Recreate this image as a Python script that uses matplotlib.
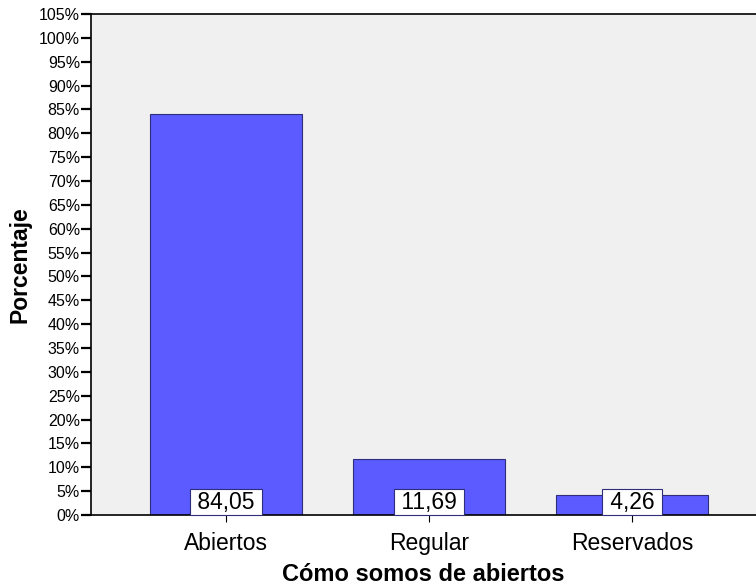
import matplotlib.pyplot as plt
from matplotlib.ticker import FuncFormatter, MultipleLocator

plt.rcParams["font.family"] = ["Liberation Sans", "DejaVu Sans"]

categories = ["Abiertos", "Regular", "Reservados"]
percentages = [84.05, 11.69, 4.26]
value_labels = ["84,05", "11,69", "4,26"]

W, H = 756, 587
fig = plt.figure(figsize=(W / 100, H / 100), dpi=100)
ax = fig.add_axes([91 / W, (H - 515) / H, (W - 91) / W, (515 - 14) / H])
ax.set_facecolor("#f0f0f0")

x = list(range(len(categories)))
ax.bar(x, percentages, width=0.75, color="#5b5bff", edgecolor="#2e2e7a", linewidth=0.8, zorder=2)

# value boxes sit on the baseline, padded with spaces left/right
for xi, lab in zip(x, value_labels):
    ax.text(xi, 0.3, f" {lab} ", ha="center", va="bottom", fontsize=16.5, zorder=3,
            bbox=dict(boxstyle="square,pad=0.05", facecolor="white", edgecolor="#2e2e7a", linewidth=0.8))

ax.set_xlim(-0.665, 2.61)
ax.set_ylim(0, 105)
ax.yaxis.set_major_locator(MultipleLocator(5))
ax.yaxis.set_major_formatter(FuncFormatter(lambda v, p: f"{v:.0f}%"))
ax.tick_params(axis="y", length=7, width=1.6, labelsize=11.5, pad=1)
ax.set_xticks(x)
ax.set_xticklabels(categories, fontsize=16.5)
ax.tick_params(axis="x", length=5, width=0.8, pad=7)

for side in ["left", "bottom", "top"]:
    ax.spines[side].set_linewidth(1.2)
ax.spines["right"].set_visible(False)

ax.set_ylabel("Porcentaje", fontsize=16.5, fontweight="bold", labelpad=5)
ax.set_xlabel("Cómo somos de abiertos", fontsize=17, fontweight="bold", labelpad=6)

fig.savefig("out.png", dpi=100)
